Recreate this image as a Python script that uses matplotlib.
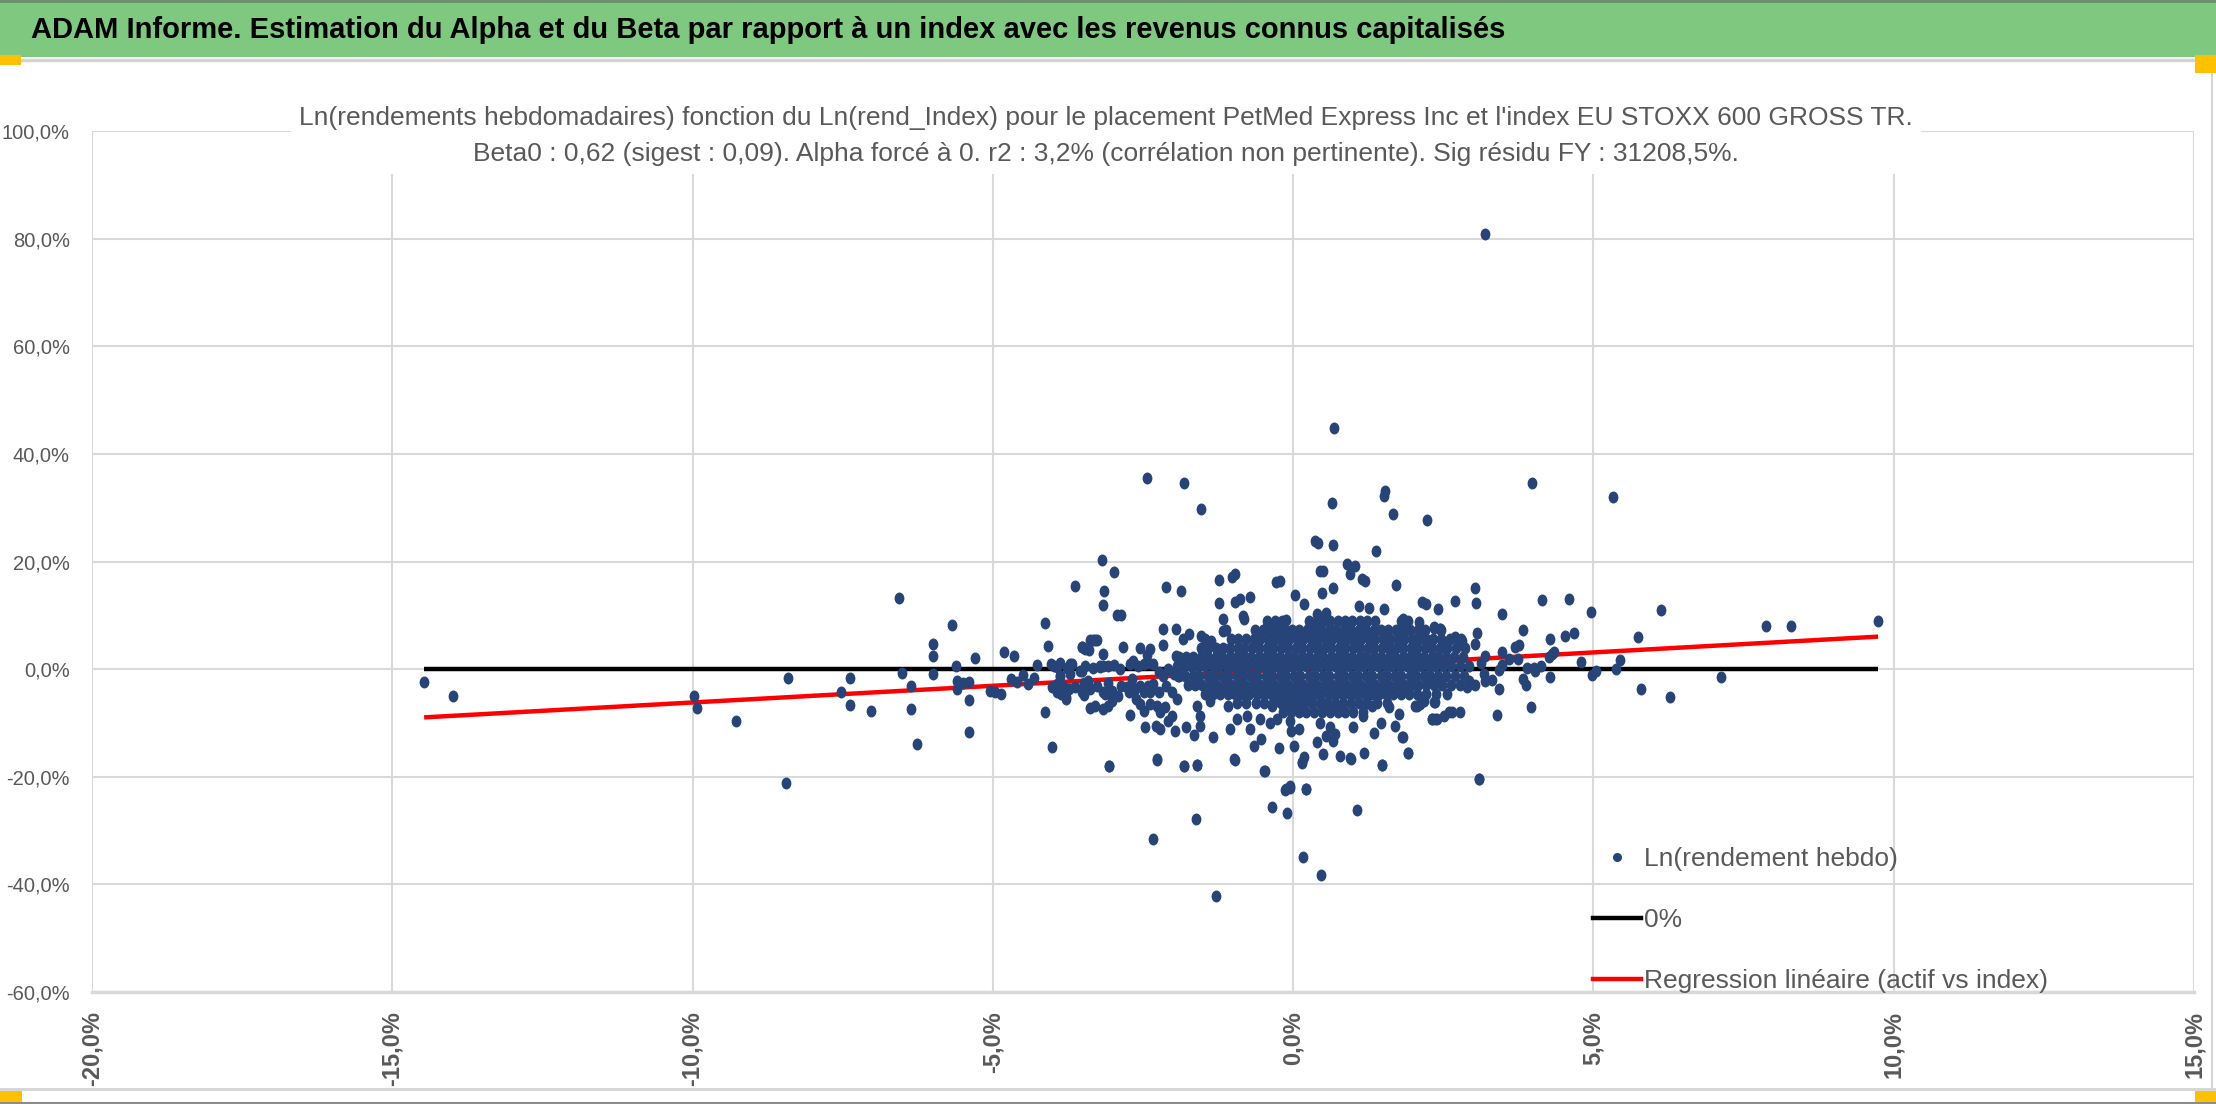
import matplotlib
matplotlib.use("Agg")
import matplotlib.pyplot as plt
from matplotlib.markers import MarkerStyle
from matplotlib.transforms import Affine2D
from matplotlib.patches import Rectangle
from matplotlib.lines import Line2D
from matplotlib.ticker import FuncFormatter

# ---------------- text ----------------
header_title = ("ADAM Informe. Estimation du Alpha et du Beta par rapport à un index "
                "avec les revenus connus capitalisés")
chart_title = ("Ln(rendements hebdomadaires) fonction du Ln(rend_Index) pour le placement "
               "PetMed Express Inc et l'index EU STOXX 600 GROSS TR.\n"
               "Beta0 : 0,62 (sigest : 0,09). Alpha forcé à 0. r2 : 3,2% "
               "(corrélation non pertinente). Sig résidu FY : 31208,5%.")
series_labels = ["Ln(rendement hebdo)", "0%", "Regression linéaire (actif vs index)"]

# ---------------- data (in %) : (index return, asset return) ----------------
points_left = [(-14.47, -2.41), (-13.99, -4.95), (-9.98, -4.95), (-9.93, -7.24), (-9.28, -9.66),
               (-8.41, -1.73), (-8.45, -21.1), (-7.53, -4.33), (-7.38, -1.67), (-7.38, -6.63),
               (-7.03, -7.74), (-6.57, 13.13), (-6.51, -0.74), (-6.36, -3.22), (-6.37, -7.49),
               (-6.27, -13.93), (-5.99, 4.64), (-5.99, 2.48), (-5.99, -0.93), (-5.68, 8.24),
               (-5.62, 0.5), (-5.59, -2.17), (-5.59, -3.72), (-5.50, -2.6), (-5.39, -2.35),
               (-5.39, -5.82), (-5.39, -11.76), (-5.29, 2.1), (-5.05, -4.02), (-4.97, -4.33),
               (-4.87, -4.71), (-4.82, 3.1), (-4.69, -1.86), (-4.64, 2.48), (-4.59, -2.48),
               (-4.50, -1.05), (-4.41, -2.79), (-4.32, -1.67), (-4.26, 0.74), (-4.14, -7.93),
               (-4.13, 8.48), (-4.09, 4.21), (-4.03, 0.93), (-4.01, -14.49), (-4.01, -3.41),
               (-3.94, 0.31), (-3.88, -1.24), (-3.86, -4.64), (-3.78, -5.26), (-3.71, -0.93),
               (-3.69, 0.93), (-3.64, 15.48), (-3.52, 4.02), (-3.52, -0.31), (-3.49, -3.1),
               (-3.48, -4.83), (-3.40, 3.59), (-3.34, 5.39), (-3.27, 5.39), (-3.42, -2.29),
               (-3.16, -7.43), (-3.08, -6.81), (-3.21, 0.31)]

points_mid = [(-3.18, 20.2), (-2.98, 18.1), (-3.15, 14.5), (-3.16, 11.9), (-2.94, 10.0), (-2.86, 10.0),
              (-2.12, 15.3), (-1.86, 14.5), (-1.24, 16.5), (-1.02, 17.2), (-0.97, 17.6), (-0.72, 13.4),
              (-0.88, 13.1), (-0.97, 12.5), (-1.24, 12.3), (-0.84, 9.9), (-0.81, 9.3), (-1.17, 9.3),
              (-0.28, 16.1), (-0.22, 16.4), (0.03, 13.8), (0.18, 12.1), (0.44, 18.3), (0.49, 18.3),
              (0.48, 14.2), (0.66, 15.0), (0.89, 19.5), (1.03, 19.2), (0.94, 17.6), (1.14, 16.8),
              (1.2, 16.4), (1.72, 15.7), (2.14, 12.5), (2.22, 12.1), (2.42, 11.1), (-0.12, 9.2),
              (0.39, 10.2), (0.55, 10.4), (1.09, 11.8), (1.27, 11.3), (1.51, 11.1), (1.83, 9.4),
              (2.09, 8.7), (2.34, 7.7), (2.44, 7.4), (-0.44, 7.9), (-2.16, 7.4), (-1.95, 7.4),
              (-1.74, 6.5), (-1.53, 6.2), (-1.36, 5.3), (-1.16, 7.1), (-2.16, 4.5), (-1.95, 2.5),
              (-1.84, 5.6), (-2.55, 4.0), (-2.39, 3.7), (-2.44, 2.6), (-2.83, 4.2), (-3.17, 2.8),
              (-3.16, 0.6), (-3.38, 5.4), (-3.3, 5.4), (-3.52, 4.1), (-3.47, 3.7), (-3.72, 0.9),
              (-3.99, 0.6), (-3.55, -0.3), (-3.88, -1.2), (-3.49, -2.5), (-3.43, -3.4), (-3.94, -4.3),
              (-3.78, -5.6), (-3.38, -7.3), (-3.3, -6.8), (-3.13, -4.6), (-3.02, -5.9), (-3.08, -2.5),
              (-2.72, 0.9), (-2.69, -1.9), (-2.77, -3.4), (-2.61, -5.6), (-2.72, -8.5), (-2.49, -7.7),
              (-2.47, -10.8), (-2.33, -2.8), (-2.38, -4.3), (-2.24, -4.3), (-2.26, -6.8), (-2.13, -7.1),
              (-2.28, -10.5), (-2.21, -11.1), (-2.09, -9.6), (-2.02, -8.7), (-1.97, -11.5), (-1.78, -10.8),
              (-1.65, -12.3), (-1.55, -8.7), (-1.55, -10.5), (-1.33, -12.6), (-1.6, -6.8), (-1.38, -5.9),
              (-1.08, -6.8), (-1.05, -11.1), (-0.94, -9.3), (-0.77, -8.7), (-0.72, -11.1), (-0.65, -14.2),
              (-0.54, -13.0), (-0.55, -9.3), (-0.38, -10.0), (-0.27, -9.2), (-0.24, -14.6), (-0.36, -6.8),
              (-0.16, -7.4), (-0.05, -9.6), (-0.04, -11.5), (0.09, -11.1), (0.02, -14.2), (0.18, -16.4),
              (0.15, -17.3), (-0.48, -19.0), (-0.98, -16.7), (-1.6, -17.8), (-1.81, -18.0), (-2.27, -16.7),
              (-3.06, -18.0), (-0.12, -22.2), (-0.06, -21.7), (0.21, -22.3), (0.39, -13.5), (0.49, -15.8),
              (0.55, -12.4), (0.67, -13.3), (0.7, -12.1), (0.78, -16.1), (0.95, -16.6), (1.0, -10.8),
              (1.18, -15.5), (1.34, -11.9), (1.48, -17.8), (1.47, -10.0), (1.7, -10.5), (1.59, -7.1),
              (1.82, -12.7), (1.92, -15.5), (1.76, -8.4), (2.06, -6.8), (2.31, -9.3), (2.39, -9.3),
              (2.35, -6.1), (2.59, -7.9), (1.31, -6.8), (1.17, -8.7), (0.44, -10.0), (0.62, -10.7),
              (-3.88, 1.2), (-3.77, 0.3), (-3.47, 0.6), (-3.33, 0.3), (-3.22, 0.6), (-3.08, 0.6),
              (-2.99, 0.7), (-2.88, 0.0), (-2.66, 1.5), (-2.58, 0.6), (-2.49, 0.9), (-2.41, 1.2),
              (-2.33, 0.9), (-2.24, -0.6), (-2.16, -1.2), (-2.08, 0.0), (-1.99, -0.9), (-1.91, -1.2),
              (-3.94, -2.8), (-3.83, -3.1), (-3.74, -3.7), (-3.63, -3.4), (-3.52, -4.3), (-3.38, -3.7),
              (-3.27, -3.1), (-3.16, -4.3), (-3.02, -4.0), (-2.91, -5.0), (-2.86, -3.1), (-2.74, -4.3),
              (-2.63, -3.7), (-2.55, -3.1), (-2.49, -4.3), (-2.41, -3.1), (-2.11, -3.1), (-2.02, -4.3),
              (-1.94, -5.6), (-2.55, -6.5), (-2.38, -6.5), (-2.22, -8.0)]

points_right = [(3.02, 15.0), (3.05, 12.3), (2.7, 12.6), (3.47, 10.2), (4.14, 12.8), (4.59, 13.0),
                (4.96, 10.7), (6.13, 11.0), (7.87, 8.0), (8.29, 8.0), (9.74, 9.0), (5.74, 5.9),
                (4.67, 6.8), (4.53, 6.2), (4.27, 5.6), (3.83, 7.2), (3.06, 6.8), (3.76, 4.5),
                (3.7, 4.2), (3.48, 3.1), (3.03, 4.6), (2.81, 5.3), (2.7, 5.9), (2.56, 5.1),
                (2.44, 7.4), (2.34, 7.9), (4.31, 2.8), (4.34, 3.1), (4.26, 2.2), (4.8, 1.4),
                (5.44, 1.7), (5.38, 0.0), (5.05, -0.3), (4.98, -1.1), (4.27, -1.5), (4.12, 0.5),
                (4.01, 0.3), (3.9, 0.2), (4.03, -0.3), (3.74, 1.9), (3.59, 1.9), (3.48, 0.8),
                (3.42, -0.2), (3.2, 2.5), (3.12, 1.2), (3.17, -0.9), (3.2, -2.2), (3.31, -2.0),
                (3.42, -3.7), (3.83, -1.9), (3.88, -3.0), (3.96, -7.1), (3.39, -8.5), (3.03, -2.9),
                (2.92, -2.2), (2.89, -3.4), (2.78, -8.0), (2.64, -7.9), (2.51, -8.8), (2.37, -9.3),
                (2.31, -9.2), (2.36, -6.2), (2.18, -5.9), (2.12, -6.5), (2.03, -6.8), (1.83, -12.7),
                (1.92, -15.6), (3.09, -20.4), (5.79, -3.7), (6.28, -5.1), (7.13, -1.4)]

points_high = [(3.19, 80.8), (0.68, 44.8), (-2.44, 35.6), (-1.82, 34.6), (-1.53, 29.7), (0.64, 30.9),
               (1.53, 33.1), (1.52, 32.1), (1.66, 28.8), (2.23, 27.7), (3.98, 34.6), (5.33, 32.0),
               (0.37, 23.8), (0.42, 23.4), (0.67, 23.0), (1.38, 21.9)]

points_low = [(-3.06, -17.95), (-2.26, -16.9), (-1.81, -17.95), (-1.6, -17.8), (-0.97, -16.9),
              (-0.47, -19.0), (0.15, -17.5), (0.96, -16.7), (1.48, -17.8), (3.1, -20.4),
              (-0.13, -22.4), (-0.06, -22.0), (0.22, -22.2), (-0.36, -25.6), (-0.11, -26.8),
              (1.06, -26.2), (-1.62, -27.9), (-2.34, -31.5), (0.17, -34.9), (0.46, -38.3),
              (-1.29, -42.1)]

# dense core of the cloud: rows of (asset return, [index returns])
dense_core_rows = [
    (9.0, [-0.43, -0.31, -0.19, 0.27, 0.39, 0.5, 0.62, 0.75, 0.86, 0.98, 1.11, 1.23, 1.36, 1.79, 1.91]),
    (7.3, [-1.12, -0.63, -0.51, -0.38, -0.27, -0.14, -0.02, 0.1, 0.23, 0.35, 0.47, 0.6, 0.72, 0.84,
           0.97, 1.09, 1.21, 1.34, 1.46, 1.58, 1.71, 1.83, 1.95, 2.08, 2.2, 2.47]),
    (5.6, [-1.47, -1.03, -0.91, -0.79, -0.66, -0.55, -0.42, -0.31, -0.18, -0.07, 0.06, 0.17, 0.3,
           0.41, 0.54, 0.65, 0.78, 0.89, 1.02, 1.13, 1.26, 1.37, 1.5, 1.61, 1.74, 1.85, 1.98, 2.09,
           2.22, 2.33, 2.47, 2.62, 2.79]),
    (3.9, [-1.53, -1.41, -1.29, -1.16, -1.05, -0.92, -0.81, -0.68, -0.57, -0.44, -0.33, -0.2, -0.09,
           0.04, 0.15, 0.28, 0.39, 0.52, 0.63, 0.76, 0.87, 1.0, 1.11, 1.24, 1.35, 1.48, 1.59, 1.72,
           1.83, 1.96, 2.07, 2.2, 2.31, 2.44, 2.57, 2.71, 2.86]),
    (2.2, [-1.9, -1.78, -1.66, -1.53, -1.42, -1.29, -1.18, -1.05, -0.94, -0.81, -0.7, -0.57, -0.46,
           -0.33, -0.22, -0.09, 0.02, 0.15, 0.26, 0.39, 0.5, 0.63, 0.74, 0.87, 0.98, 1.11, 1.22,
           1.35, 1.46, 1.59, 1.7, 1.83, 1.94, 2.07, 2.18, 2.31, 2.42, 2.55, 2.68, 2.83]),
    (0.5, [-1.93, -1.82, -1.7, -1.58, -1.47, -1.34, -1.23, -1.1, -0.99, -0.86, -0.75, -0.62, -0.51,
           -0.38, -0.27, -0.14, -0.03, 0.1, 0.21, 0.34, 0.45, 0.58, 0.69, 0.82, 0.93, 1.06, 1.17,
           1.3, 1.41, 1.54, 1.65, 1.78, 1.89, 2.02, 2.13, 2.26, 2.37, 2.5, 2.63, 2.77, 2.93]),
    (-1.2, [-1.9, -1.8, -1.66, -1.56, -1.42, -1.32, -1.18, -1.08, -0.94, -0.84, -0.7, -0.6, -0.46,
            -0.36, -0.22, -0.12, 0.02, 0.12, 0.26, 0.36, 0.5, 0.6, 0.74, 0.84, 0.98, 1.08, 1.22,
            1.32, 1.46, 1.56, 1.7, 1.8, 1.94, 2.04, 2.18, 2.28, 2.42, 2.55, 2.69, 2.84]),
    (-2.9, [-1.75, -1.63, -1.52, -1.39, -1.28, -1.15, -1.04, -0.91, -0.8, -0.67, -0.56, -0.43, -0.32,
            -0.19, -0.08, 0.05, 0.16, 0.29, 0.4, 0.53, 0.64, 0.77, 0.88, 1.01, 1.12, 1.25, 1.36,
            1.49, 1.6, 1.73, 1.84, 1.97, 2.08, 2.21, 2.34, 2.48, 2.63, 2.78]),
    (-4.6, [-1.46, -1.33, -1.21, -1.09, -0.97, -0.85, -0.73, -0.61, -0.49, -0.37, -0.25, -0.13, -0.01,
            0.11, 0.23, 0.35, 0.47, 0.59, 0.71, 0.83, 0.95, 1.07, 1.19, 1.31, 1.43, 1.55, 1.67,
            1.79, 1.93, 2.06, 2.21, 2.38, 2.57]),
    (-6.3, [-0.93, -0.78, -0.62, -0.48, -0.34, -0.21, -0.08, 0.05, 0.18, 0.31, 0.44, 0.57, 0.7,
            0.83, 0.96, 1.09, 1.23, 1.4, 1.56]),
    (-8.0, [-0.17, -0.04, 0.09, 0.22, 0.35, 0.48, 0.61, 0.74, 0.87, 1.0, 1.16]),
]

# reference lines (endpoints)
line_x = [-14.47, 9.74]
zero_y = [0.0, 0.0]
regression_y = [-8.97, 6.04]

x_ticks = [-20, -15, -10, -5, 0, 5, 10, 15]
y_ticks = [-60, -40, -20, 0, 20, 40, 60, 80, 100]

# ---------------- assemble ----------------
index_ret, asset_ret = [], []
for grp in (points_left, points_mid, points_right, points_high, points_low):
    for px_, py_ in grp:
        index_ret.append(px_)
        asset_ret.append(py_)
for ry, xs in dense_core_rows:
    for xv in xs:
        index_ret.append(xv)
        asset_ret.append(ry)

# ---------------- figure ----------------
W, H = 2216, 1104
fig = plt.figure(figsize=(W / 100, H / 100), dpi=100)
fig.patch.set_facecolor("white")

SANS = ["Liberation Sans", "DejaVu Sans"]
GREY_TXT = "#595959"
GRID = "#D9D9D9"
BLUE = "#264478"


def fx(x):
    return x / W


def fy(y):
    return 1 - y / H


# header band
fig.add_artist(Rectangle((0, fy(57)), 1, 57 / H, transform=fig.transFigure,
                         facecolor="#7EC87F", edgecolor="none", zorder=0))
fig.add_artist(Line2D([0, 1], [fy(1), fy(1)], transform=fig.transFigure, color="#6E8B6E", lw=2))
fig.add_artist(Line2D([0, 1], [fy(60), fy(60)], transform=fig.transFigure, color="#D4D4D4", lw=2.5))
fig.text(fx(31), fy(30), header_title, ha="left", va="center", fontsize=21,
         fontweight="bold", family=SANS, color="black")

# chart frame
fig.add_artist(Line2D([fx(2212), fx(2212)], [fy(61), fy(1089)], transform=fig.transFigure,
                      color="#D4D4D4", lw=1.5))
fig.add_artist(Line2D([0, 1], [fy(1089), fy(1089)], transform=fig.transFigure,
                      color="#D4D4D4", lw=2))
fig.add_artist(Line2D([0, 1], [fy(1103), fy(1103)], transform=fig.transFigure,
                      color="#8C8C8C", lw=1.5))
for (x0, y0, w, h) in [(0, 55, 21, 10), (2195, 55, 21, 18), (0, 1091, 22, 11), (2195, 1091, 21, 11)]:
    fig.add_artist(Rectangle((fx(x0), fy(y0 + h)), w / W, h / H, transform=fig.transFigure,
                             facecolor="#FFC000", edgecolor="none", zorder=6))

# axes
ax = fig.add_axes([fx(92), fy(992), (2194 - 92) / W, (992 - 131) / H])
ax.set_xlim(-20, 15)
ax.set_ylim(-60, 100)
ax.set_xticks(x_ticks)
ax.set_yticks(y_ticks)
pct = FuncFormatter(lambda v, _: f"{v:.1f}%".replace(".", ","))
ax.xaxis.set_major_formatter(pct)
ax.yaxis.set_major_formatter(pct)
ax.grid(True, color=GRID, lw=1.5)
ax.set_axisbelow(True)
for s in ("top", "left", "right"):
    ax.spines[s].set_visible(False)
ax.spines["bottom"].set_color(GRID)
ax.spines["bottom"].set_linewidth(2.5)
ax.tick_params(axis="both", length=0, colors=GREY_TXT)
ax.tick_params(axis="y", pad=16, labelsize=14.5)
ax.tick_params(axis="x", pad=14)
for lab in ax.get_yticklabels():
    lab.set_family(SANS)
for lab in ax.get_xticklabels():
    lab.set_family(SANS)
    lab.set_fontweight("bold")
    lab.set_fontsize(17)
    lab.set_rotation(90)

ax.plot(line_x, zero_y, color="black", lw=3.2, zorder=2, solid_capstyle="butt")
ax.plot(line_x, regression_y, color="#FF0000", lw=3.2, zorder=2, solid_capstyle="butt")
marker = MarkerStyle("o", transform=Affine2D().scale(0.82, 1.0))
ax.scatter(index_ret, asset_ret, s=74, marker=marker, color=BLUE, linewidths=0, zorder=3)

# chart title
fig.text(fx(1106), fy(136), chart_title, ha="center", va="center", multialignment="center",
         fontsize=19, family=SANS, color=GREY_TXT, linespacing=1.6, zorder=5,
         bbox=dict(facecolor="white", edgecolor="none", pad=6))

# legend
handles = [Line2D([], [], marker="o", ls="none", ms=5.5, color=BLUE),
           Line2D([], [], color="black", lw=3.2),
           Line2D([], [], color="#FF0000", lw=3.2)]
leg = ax.legend(handles, series_labels, loc="lower left", bbox_to_anchor=(fx(1593), fy(993)),
                bbox_transform=fig.transFigure, frameon=False, handlelength=1.8,
                handletextpad=0.15, labelspacing=1.4, borderpad=0, borderaxespad=0,
                prop={"family": SANS, "size": 19})
for t in leg.get_texts():
    t.set_color(GREY_TXT)

fig.savefig("out.png", dpi=100)
